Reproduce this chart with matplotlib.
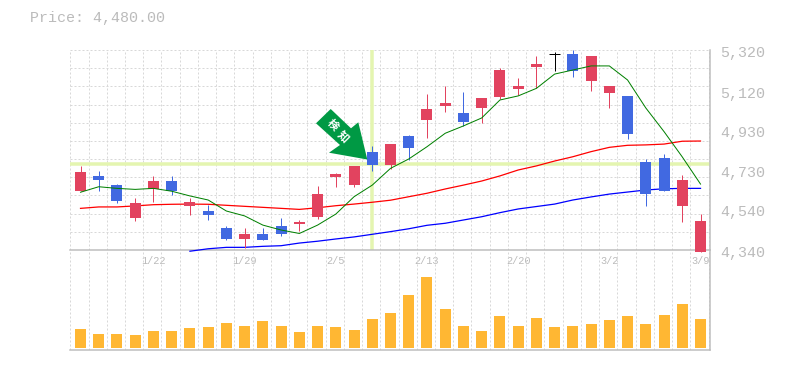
import matplotlib
matplotlib.use("Agg")
import matplotlib.pyplot as plt
from matplotlib.patches import Polygon
from matplotlib.transforms import Affine2D

# ---- data -------------------------------------------------------------
title_text = "Price: 4,480.00"
opens  = [4629,4703,4658,4497,4639,4678,4556,4531,4448,4394,4418,4458,4467,4502,4698,4658,
          4820,4757,4899,4977,5046,5011,5036,5090,5129,5237,5300,5300,5168,5109,5095,4771,4791,4556,4330]
closes = [4722,4683,4580,4570,4678,4629,4575,4512,4394,4418,4389,4418,4477,4614,4712,4752,
          4757,4859,4840,5031,5060,4967,5085,5222,5144,5251,5300,5217,5291,5144,4908,4614,4629,4683,4480]
highs  = [4752,4727,4663,4595,4703,4703,4595,4561,4458,4448,4448,4497,4487,4654,4717,4752,
          4850,4859,4903,5104,5144,5114,5085,5232,5183,5291,5310,5320,5291,5144,5095,4786,4810,4707,4516]
lows   = [4629,4629,4570,4482,4575,4610,4512,4487,4389,4350,4389,4409,4433,4492,4649,4649,
          4727,4737,4781,4889,5016,4948,4962,5080,5100,5134,5217,5188,5119,5036,4884,4556,4629,4477,4330]
ma_short = [4623,4650,4642,4637,4642,4628,4605,4585,4531,4507,4462,4438,4421,4462,4516,4601,
            4658,4740,4786,4846,4912,4948,4987,5075,5095,5132,5202,5222,5242,5242,5173,5036,4920,4796,4663]
ma_mid = [4544,4551,4551,4556,4562,4564,4565,4564,4559,4554,4549,4544,4539,4547,4557,4565,
          4574,4584,4601,4618,4639,4658,4678,4703,4732,4752,4776,4797,4822,4843,4853,4855,4859,4873,4874]
ma_long_start = 6
ma_long = [4334,4346,4353,4353,4358,4361,4374,4383,4394,4404,4417,4430,4444,4461,4471,4487,
           4503,4523,4541,4553,4565,4585,4600,4614,4624,4634,4640,4642,4642]
volumes = [19,14,14,13,17,17,20,21,25,22,27,22,16,22,21,18,29,35,53,71,39,22,17,32,22,30,21,22,24,28,32,24,33,44,29]
date_idx = [4,9,14,19,24,29,34]
date_labels = ["1/22","1/29","2/5","2/13","2/20","3/2","3/9"]
price_ticks = [5320,5120,4930,4730,4540,4340]
cross_idx = 16
cross_price = 4760

# ---- style ------------------------------------------------------------
W, H = 785, 370
RED, BLUE, ORANGE = "#E2435F", "#4169E1", "#FFB733"
GRID, AXIS, TXT = "#D8D8D8", "#BDBDBD", "#BBBBBB"
CROSS = "#E4F5B0"
px = 0.72
MONO = "Liberation Mono"

fig = plt.figure(figsize=(W/100, H/100), dpi=100, facecolor="white")
def box(l, t, r, b):
    return [l/W, 1-b/H, (r-l)/W, (b-t)/H]
ax = fig.add_axes(box(70, 50, 710, 250))
av = fig.add_axes(box(70, 250, 710, 350))

n = len(opens)
xs = list(range(n))
xlim = (-0.576, 34.52)
grid_x = [k - 0.56 for k in range(n+1)]
dash = (0, (2, 2))

for a in (ax, av):
    a.set_xlim(*xlim)
    a.set_xticks([]); a.set_yticks([])
    a.patch.set_alpha(0)
    for s in a.spines.values():
        s.set_visible(False)
    for s in ("right", "bottom"):
        a.spines[s].set_visible(True)
        a.spines[s].set_color(AXIS)
        a.spines[s].set_linewidth(1.5*px)
    for gx in grid_x:
        a.axvline(gx, color=GRID, lw=px, ls=dash, zorder=1, snap=True)

ax.set_ylim(4340, 5320)
av.set_ylim(-2, 98)

for k in range(12):
    ax.axhline(4340 + k*980/11, color=GRID, lw=px, ls=dash, zorder=1, snap=True)

# crosshair
ax.axhline(cross_price, color=CROSS, lw=3.5*px, zorder=2)
ax.axvline(cross_idx, color=CROSS, lw=3.5*px, zorder=2)

# moving averages
ax.plot(xs, ma_mid, color="#FF0000", lw=1.25*px, zorder=3, clip_on=False)
ax.plot(xs[ma_long_start:], ma_long, color="#0000FF", lw=1.25*px, zorder=3, clip_on=False)

# candles
bw = 11/18.235
for i in xs:
    o, c, h, l = opens[i], closes[i], highs[i], lows[i]
    col = "black" if o == c else (RED if c > o else BLUE)
    ax.vlines(i, l, h, color=col, lw=px, zorder=4, clip_on=False, snap=True)
    if o == c:
        ax.hlines(o, i-bw/2, i+bw/2, color=col, lw=px, zorder=4, snap=True)
    else:
        ax.bar(i, abs(c-o), bottom=min(o, c), width=bw, color=col, lw=0, zorder=4, clip_on=False)

ax.plot(xs, ma_short, color="#008000", lw=1.0*px, zorder=5, clip_on=False)

# volume
av.bar(xs, volumes, width=bw, color=ORANGE, lw=0, zorder=3)

# texts
fig.text(30/W, 1-18/H, title_text, family=MONO, fontsize=10.8, color=TXT, va="center", ha="left")
for v in price_ticks:
    ax.annotate(f"{v:,}", xy=(1, v), xycoords=ax.get_yaxis_transform(),
                xytext=(10, -3), textcoords="offset pixels", family=MONO, fontsize=10.8,
                color=TXT, ha="left", va="center", annotation_clip=False)
for i, lab in zip(date_idx, date_labels):
    ax.annotate(lab, xy=(i, 0), xycoords=ax.get_xaxis_transform(),
                xytext=(-0, -11), textcoords="offset pixels", family=MONO, fontsize=7.4,
                color=TXT, ha="center", va="center", annotation_clip=False)

# marker arrow
to_fig = Affine2D().scale(1, -1).translate(0, H)
arrow_outline = [(367.3,159.5),(329,152.7),(340,145),(316,123.3),(330.7,109),(351,128.3),(358.3,122.3)]
fig.add_artist(Polygon(arrow_outline, closed=True, fc="#009944", ec="none", transform=to_fig, zorder=6))
for label, (tx, ty) in zip("検知", [(333,125),(343,137)]):
    fig.text(tx/W, 1-ty/H, label, family="Noto Sans CJK JP", fontsize=8, fontweight="bold",
             color="white", rotation=-45, ha="center", va="center", rotation_mode="anchor", zorder=7)

fig.savefig("out.png", dpi=100, facecolor="white")
